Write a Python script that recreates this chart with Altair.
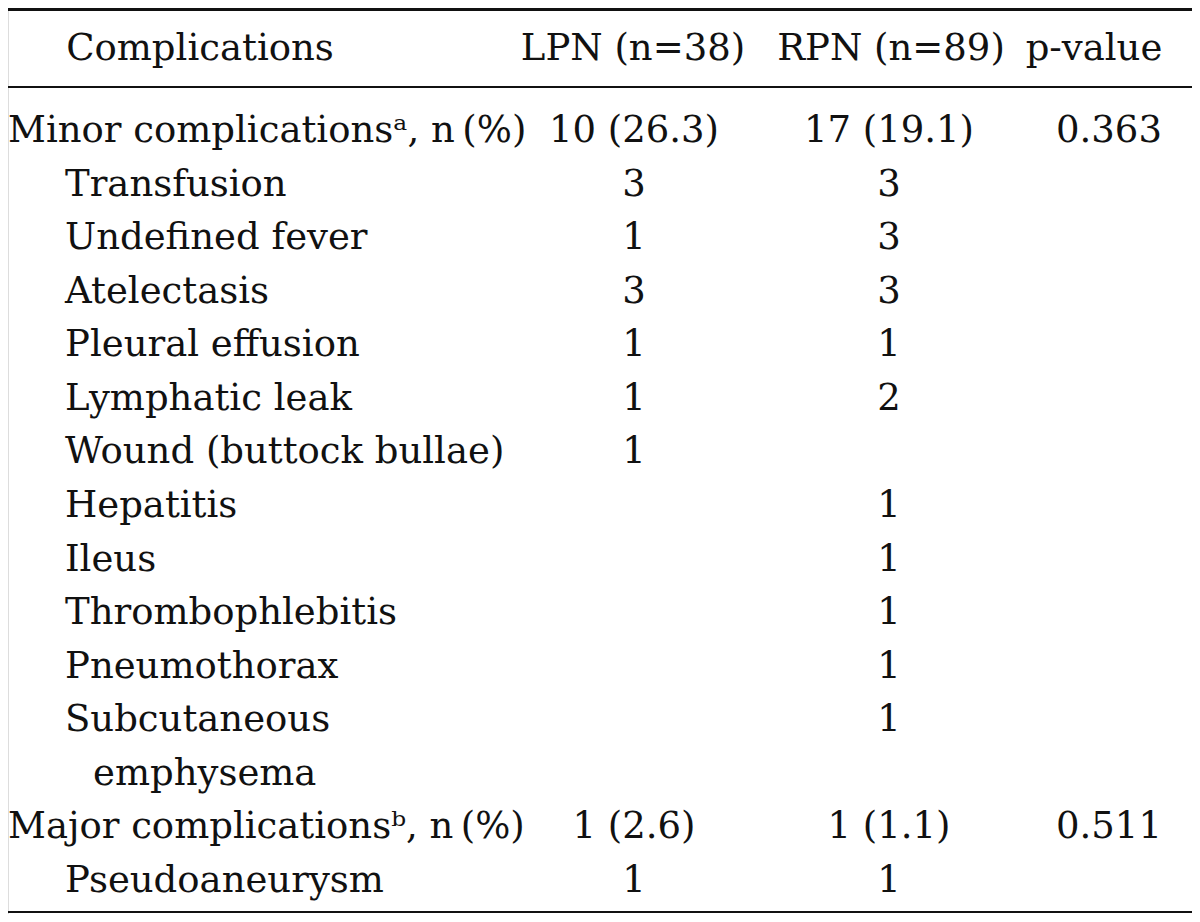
import altair as alt
import pandas as pd

# ---- table content ----
headers = ["Complications", "LPN (n=38)", "RPN (n=89)", "p-value"]
labels = [
    "Minor complications\u1d43, n\u2009(%)",
    "Transfusion",
    "Undefined fever",
    "Atelectasis",
    "Pleural effusion",
    "Lymphatic leak",
    "Wound (buttock bullae)",
    "Hepatitis",
    "Ileus",
    "Thrombophlebitis",
    "Pneumothorax",
    "Subcutaneous",
    "emphysema",
    "Major complications\u1d47, n\u2009(%)",
    "Pseudoaneurysm",
]
levels = [0, 1, 1, 1, 1, 1, 1, 1, 1, 1, 1, 1, 2, 0, 1]
lpn = ["10 (26.3)", "3", "1", "3", "1", "1", "1", "", "", "", "", "", "", "1 (2.6)", "1"]
rpn = ["17 (19.1)", "3", "3", "3", "1", "2", "", "1", "1", "1", "1", "1", "", "1 (1.1)", "1"]
pval = ["0.363", "", "", "", "", "", "", "", "", "", "", "", "", "0.511", ""]

df = pd.DataFrame({
    "row": list(range(len(labels))),
    "label": labels,
    "level": levels,
    "lpn": lpn,
    "rpn": rpn,
    "p": pval,
})
hdf = pd.DataFrame({"h": headers})
one = pd.DataFrame({"k": [0]})

FONT = "DejaVu Serif"
FS = 37
INK = "#111111"
W, H = 1184, 906

yenc = alt.Y("row:Q", scale=alt.Scale(domain=[0, 14], range=[123, 873]), axis=None)

def txt(align):
    return dict(align=align, baseline="middle", font=FONT, fontSize=FS, color=INK)

layers = []

# label column, indented by level
for lev, xpos in [(0, 0), (1, 57), (2, 85)]:
    layers.append(
        alt.Chart(df).transform_filter(alt.datum.level == lev)
        .mark_text(**txt("left"))
        .encode(x=alt.value(xpos), y=yenc, text="label:N")
    )

# value columns
for field, xpos in [("lpn", 626), ("rpn", 881), ("p", 1101)]:
    layers.append(
        alt.Chart(df).mark_text(**txt("center"))
        .encode(x=alt.value(xpos), y=yenc, text=f"{field}:N")
    )

# header
for h, xpos in zip(headers, [192, 625, 883, 1086]):
    layers.append(
        alt.Chart(hdf).transform_filter(alt.datum.h == h)
        .mark_text(**txt("center"))
        .encode(x=alt.value(xpos), y=alt.value(41), text="h:N")
    )

# horizontal rules
for ypos, sw in [(1.5, 3), (79, 2), (904, 2)]:
    layers.append(
        alt.Chart(one).mark_rule(strokeWidth=sw, color=INK)
        .encode(x=alt.value(0), x2=alt.value(W), y=alt.value(ypos))
    )

chart = (
    alt.layer(*layers)
    .properties(width=W, height=H, padding=0, autosize=alt.AutoSizeParams(type="none"))
    .configure_view(stroke=None)
    .configure(background="white")
)

chart.save("out.html", embed_options={"renderer": "svg", "actions": False})
